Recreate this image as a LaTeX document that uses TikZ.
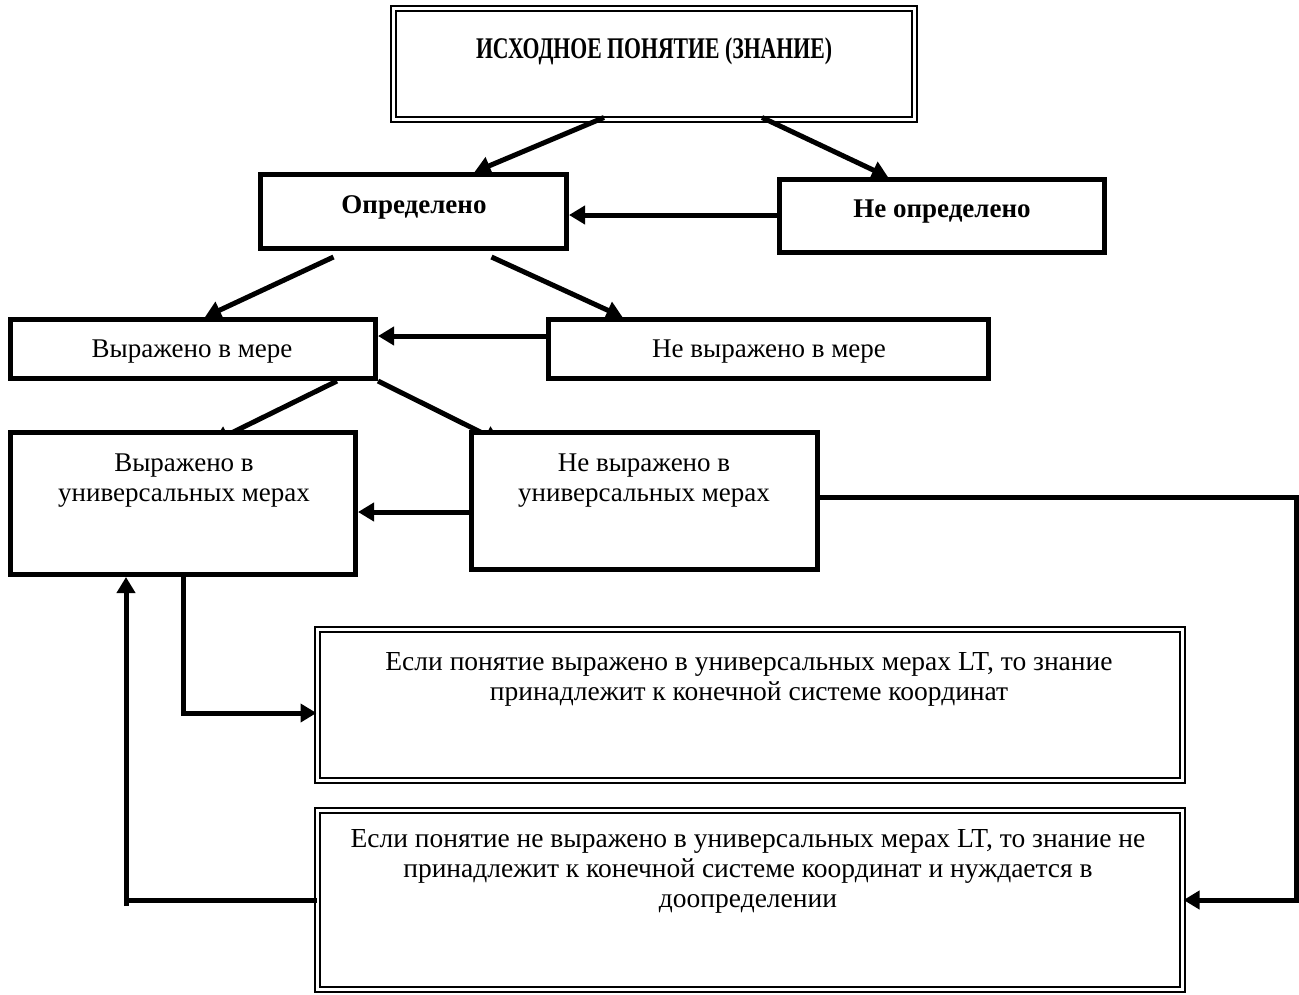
\documentclass[tikz,border=0pt]{standalone}
\usepackage{fontspec}
\setmainfont{Liberation Serif}
\newfontfamily\titlefont[FakeStretch=0.725]{Liberation Serif}
\usetikzlibrary{arrows.meta,calc,backgrounds}
\newcommand\txtsize{\fontsize{27}{30}\selectfont}
\newcommand\notesize{\fontsize{27.5}{30}\selectfont}

\begin{document}
\begin{tikzpicture}[x=1pt,y=-1pt,
  box/.style={draw, line width=5pt, fill=white, rectangle, inner sep=0pt},
  dbox/.style={draw, line width=2pt, double=white, double distance=3pt, fill=white, rectangle, inner sep=0pt},
  lbl/.style={inner sep=0pt, anchor=base, align=center, font=\txtsize},
  boldlbl/.style={lbl, font=\txtsize\bfseries},
  notelbl/.style={inner sep=0pt, anchor=base, align=center, font=\notesize},
  conn/.style={line width=5pt, -{Triangle[length=16pt,width=18pt]}},
  rail/.style={line width=5pt}
]
\useasboundingbox (0,0) rectangle (1299,994);

% boxes
\node[dbox, minimum width=521pt, minimum height=111pt] (top)    at (654,64)    {};
\node[box,  minimum width=306pt, minimum height=74pt]  (def)    at (413.5,211.5) {};
\node[box,  minimum width=325pt, minimum height=73pt]  (undef)  at (942,216)   {};
\node[box,  minimum width=365pt, minimum height=59pt]  (meas)   at (193,349)   {};
\node[box,  minimum width=440pt, minimum height=59pt]  (nomeas) at (768.5,349) {};
\node[box,  minimum width=345pt, minimum height=142pt] (univ)   at (183,503.5) {};
\node[box,  minimum width=346pt, minimum height=137pt] (nouniv) at (644.5,501) {};
\node[dbox, minimum width=865pt, minimum height=151pt] (fin)    at (750,705)   {};
\node[dbox, minimum width=865pt, minimum height=179pt] (nofin)  at (750,900)   {};

% labels (multi-line labels are placed by the baseline of their last line)
\node[inner sep=0pt, anchor=base, font=\titlefont\bfseries\fontsize{30}{32}\selectfont] (ttop) at (654,58) {ИСХОДНОЕ ПОНЯТИЕ (ЗНАНИЕ)};
\node[boldlbl] (tdef)    at (414,213) {Определено};
\node[boldlbl] (tundef)  at (942,217) {Не определено};
\node[lbl]     (tmeas)   at (192,357) {Выражено в мере};
\node[lbl]     (tnomeas) at (769,357) {Не выражено в мере};
\node[lbl]     (tuniv)   at (184,501) {Выражено в\\универсальных мерах};
\node[lbl]     (tnouniv) at (644,501) {Не выражено в\\универсальных мерах};
\node[notelbl] (tfin)    at (749,700) {Если понятие выражено в универсальных мерах LT, то знание\\принадлежит к конечной системе координат};
\node[notelbl] (tnofin)  at (748,907) {Если понятие не выражено в универсальных мерах LT, то знание не\\принадлежит к конечной системе координат и нуждается в\\доопределении};

% rails of the feedback loops
\coordinate (rrail) at (1296,0);
\coordinate (lrail) at (126,0);

% arrows whose heads sit under the boxes
\begin{scope}[on background layer]
  \draw[conn] ([xshift=144pt]meas.south) -- ([xshift=30pt,yshift=-12pt]univ.north);
  \draw[conn] (meas.south east) -- ([xshift=-144pt,yshift=-12pt]nouniv.north);
\end{scope}

% arrows
\draw[conn] ([xshift=-50pt,yshift=3pt]top.south) -- ([xshift=61pt]def.north);
\draw[conn] ([xshift=108pt,yshift=3pt]top.south) -- ([xshift=-54pt]undef.north);
\draw[conn] ([yshift=1pt]undef.west) -- ([yshift=1pt]undef.west -| def.east);
\draw[conn] ([xshift=-80pt,yshift=-6pt]def.south) -- ([xshift=12pt]meas.north);
\draw[conn] ([xshift=78pt,yshift=-6pt]def.south) -- ([xshift=-146pt]nomeas.north);
\draw[conn] ([yshift=13pt]nomeas.west) -- ([yshift=13pt]nomeas.west -| meas.east);
\draw[conn] ([yshift=-11pt]nouniv.west) -- ([yshift=-11pt]nouniv.west -| univ.east);
\draw[conn] (univ.south) |- ([yshift=-8pt]fin.west);
\draw[conn] ([yshift=4pt]nouniv.east) -| (nofin.east -| rrail) -- (nofin.east);
\draw[rail] (nofin.west) -- (nofin.west -| lrail);
\draw[conn] ([yshift=-6pt]nofin.west -| lrail) -- (lrail |- univ.south);
\end{tikzpicture}
\end{document}
